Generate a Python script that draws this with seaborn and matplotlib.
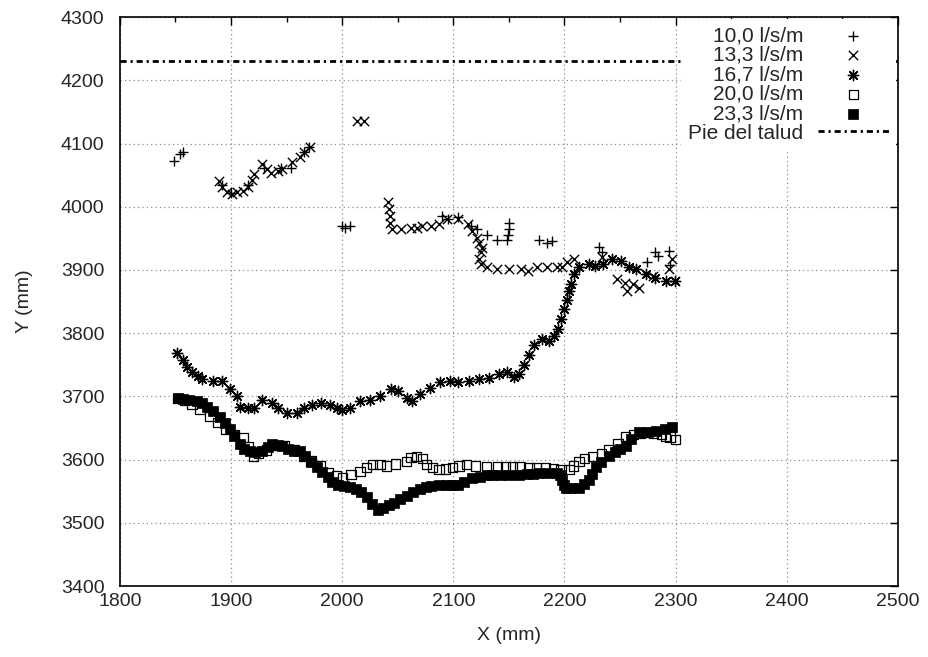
import numpy as np
import matplotlib
matplotlib.use("Agg")
import matplotlib.pyplot as plt
import seaborn as sns
from matplotlib.ticker import MultipleLocator

# Data (X mm, Y mm) for each flow rate
s10_x = [1849, 1854, 1857, 1892, 1900, 1915, 1930, 1945, 1954, 1966, 1970, 2000, 2003, 2007,
         2090, 2095, 2104, 2116, 2121, 2130, 2139, 2148, 2149, 2150, 2150, 2177, 2184, 2189,
         2231, 2234, 2274, 2281, 2284, 2294, 2295]
s10_y = [4072, 4083, 4086, 4035, 4022, 4035, 4062, 4062, 4062, 4086, 4095, 3969, 3966, 3969,
         3985, 3980, 3983, 3969, 3964, 3956, 3948, 3948, 3956, 3964, 3975, 3948, 3943, 3946,
         3937, 3928, 3912, 3928, 3922, 3930, 3908]

s13_x = [1889, 1892, 1896, 1901, 1905, 1911, 1915, 1919, 1921, 1928, 1932, 1936, 1942, 1946,
         1955, 1962, 1966, 1971, 2013, 2020, 2041, 2042, 2043, 2043, 2045, 2053, 2062, 2067,
         2072, 2080, 2087, 2094, 2104, 2113, 2117, 2121, 2123, 2126, 2125, 2123, 2125, 2130,
         2139, 2150, 2161, 2167, 2175, 2184, 2193, 2198, 2202, 2209, 2234, 2247, 2254, 2256,
         2262, 2267, 2280, 2294, 2297, 2299]
s13_y = [4040, 4032, 4024, 4020, 4023, 4025, 4032, 4043, 4051, 4067, 4059, 4054, 4056, 4059,
         4070, 4078, 4086, 4094, 4136, 4136, 4007, 3996, 3985, 3975, 3964, 3964, 3967, 3967,
         3969, 3969, 3972, 3980, 3980, 3972, 3961, 3951, 3943, 3935, 3928, 3917, 3909, 3905,
         3901, 3901, 3901, 3898, 3904, 3904, 3905, 3905, 3912, 3917, 3921, 3885, 3880, 3866,
         3878, 3872, 3890, 3901, 3917, 3882]

s16_x = [1851, 1857, 1860, 1865, 1870, 1874, 1884, 1892, 1899, 1905, 1908, 1915, 1921, 1928,
         1937, 1942, 1950, 1959, 1966, 1973, 1981, 1989, 1995, 2000, 2007, 2016, 2025, 2034,
         2044, 2050, 2058, 2063, 2070, 2079, 2088, 2097, 2104, 2114, 2123, 2132, 2141, 2148,
         2155, 2159, 2164, 2168, 2173, 2180, 2186, 2191, 2194, 2197, 2200, 2202, 2204, 2206,
         2209, 2213, 2222, 2227, 2235, 2243, 2251, 2258, 2264, 2273, 2281, 2291, 2299]
s16_y = [3769, 3758, 3746, 3738, 3732, 3727, 3724, 3724, 3711, 3700, 3684, 3682, 3682, 3695,
         3690, 3682, 3674, 3674, 3682, 3687, 3690, 3687, 3682, 3679, 3682, 3692, 3695, 3700,
         3711, 3708, 3698, 3693, 3703, 3714, 3723, 3725, 3722, 3725, 3727, 3729, 3735, 3738,
         3730, 3735, 3750, 3766, 3782, 3790, 3787, 3795, 3806, 3822, 3838, 3852, 3866, 3878,
         3893, 3904, 3910, 3906, 3910, 3917, 3914, 3905, 3901, 3893, 3888, 3882, 3882]

s20_x = [1852, 1858, 1865, 1872, 1881, 1888, 1895, 1903, 1911, 1916, 1920, 1925, 1932, 1940,
         1948, 1957, 1965, 1972, 1980, 1988, 1995, 2000, 2008, 2016, 2022, 2027, 2034, 2040,
         2048, 2058, 2062, 2067, 2072, 2076, 2081, 2087, 2093, 2099, 2105, 2112, 2120, 2130,
         2140, 2147, 2153, 2160, 2168, 2175, 2183, 2190, 2197, 2204, 2208, 2213, 2218, 2225,
         2233, 2240, 2248, 2255, 2262, 2268, 2273, 2280, 2287, 2291, 2295, 2300]
s20_y = [3697, 3694, 3687, 3680, 3668, 3659, 3648, 3640, 3635, 3620, 3605, 3610, 3615, 3622,
         3622, 3615, 3605, 3598, 3590, 3580, 3575, 3571, 3576, 3581, 3587, 3592, 3592, 3590,
         3593, 3597, 3603, 3605, 3602, 3592, 3588, 3584, 3585, 3587, 3590, 3592, 3590, 3589,
         3589, 3589, 3589, 3589, 3588, 3588, 3587, 3586, 3584, 3584, 3590, 3597, 3602, 3605,
         3610, 3615, 3625, 3637, 3640, 3642, 3643, 3642, 3640, 3637, 3636, 3632]

s23_x = [1852, 1857, 1862, 1869, 1874, 1878, 1884, 1890, 1895, 1899, 1903, 1908, 1912, 1917,
         1922, 1928, 1933, 1937, 1942, 1946, 1951, 1957, 1962, 1967, 1972, 1977, 1982, 1987,
         1991, 1996, 2002, 2007, 2012, 2017, 2022, 2027, 2032, 2037, 2042, 2047, 2052, 2058,
         2064, 2070, 2075, 2080, 2087, 2094, 2099, 2104, 2110, 2117, 2124, 2130, 2135, 2142,
         2150, 2159, 2166, 2172, 2177, 2185, 2193, 2196, 2198, 2200, 2201, 2206, 2213, 2218,
         2222, 2225, 2228, 2233, 2240, 2245, 2250, 2255, 2260, 2267, 2275, 2282, 2290, 2297]
s23_y = [3697, 3696, 3695, 3692, 3689, 3684, 3677, 3668, 3658, 3648, 3637, 3624, 3617, 3613,
         3612, 3613, 3620, 3624, 3623, 3621, 3617, 3614, 3613, 3605, 3597, 3589, 3580, 3572,
         3564, 3560, 3559, 3557, 3553, 3548, 3541, 3530, 3521, 3524, 3528, 3532, 3537, 3543,
         3548, 3553, 3556, 3559, 3560, 3560, 3560, 3560, 3565, 3571, 3573, 3575, 3576, 3576,
         3575, 3575, 3577, 3578, 3579, 3579, 3579, 3575, 3568, 3560, 3555, 3555, 3555, 3561,
         3568, 3578, 3589, 3597, 3605, 3612, 3617, 3621, 3632, 3643, 3644, 3645, 3648, 3651]

toe_y = 4230
series_labels = ["10,0 l/s/m", "13,3 l/s/m", "16,7 l/s/m", "20,0 l/s/m", "23,3 l/s/m"]
toe_label = "Pie del talud"

sns.set_style("white")
plt.rcParams["font.family"] = ["Liberation Sans", "DejaVu Sans"]
plt.rcParams["xtick.direction"] = "in"
plt.rcParams["ytick.direction"] = "in"

fig = plt.figure(figsize=(9.29, 6.57), dpi=100)
ax = fig.add_axes([0.129, 0.108, 0.8376, 0.866])

sns.scatterplot(x=s10_x, y=s10_y, marker="+", color="black", s=60, linewidth=1.0,
                label=series_labels[0], ax=ax)
sns.scatterplot(x=s13_x, y=s13_y, marker="x", color="black", s=45, linewidth=1.0,
                label=series_labels[1], ax=ax)
sns.scatterplot(x=s16_x, y=s16_y, marker=(8, 2, 0), color="black", s=55, linewidth=1.0,
                label=series_labels[2], ax=ax)
sns.scatterplot(x=s20_x, y=s20_y, marker="s", color="black", facecolor="none",
                edgecolor="black", s=45, linewidth=0.9, label=series_labels[3], ax=ax)
sns.scatterplot(x=s23_x, y=s23_y, marker="s", color="black", edgecolor="black",
                s=45, linewidth=0.5, label=series_labels[4], ax=ax)
ax.axhline(toe_y, color="black", lw=2, linestyle=(0, (2.2, 1.4, 0.8, 1.4)), label=toe_label)

ax.set_xlim(1800, 2500)
ax.set_ylim(3400, 4300)
ax.xaxis.set_major_locator(MultipleLocator(100))
ax.xaxis.set_minor_locator(MultipleLocator(50))
ax.yaxis.set_major_locator(MultipleLocator(100))
ax.tick_params(which="both", top=True, right=True, color="black", width=1)
ax.tick_params(which="major", length=6, labelsize=14)
ax.tick_params(axis="y", which="major", pad=11)
ax.tick_params(axis="x", which="major", pad=5)
ax.tick_params(which="minor", length=3.5)
ax.grid(True, which="major", color="#8c8c8c", linestyle=(0, (1, 2.5)), linewidth=0.9)
for sp in ax.spines.values():
    sp.set_color("black")
    sp.set_linewidth(1.2)

ax.set_xlabel("X (mm)", fontsize=14, labelpad=12)
ax.set_ylabel("Y (mm)", fontsize=14, labelpad=20)

leg = ax.legend(loc="upper right", markerfirst=False, frameon=True, fancybox=False,
                edgecolor="none", facecolor="white", framealpha=1, fontsize=15,
                labelspacing=0.02, handlelength=3.4, handletextpad=0.7,
                borderaxespad=0.1, borderpad=0.35, scatterpoints=1)

fig.savefig("out.png", dpi=100)
